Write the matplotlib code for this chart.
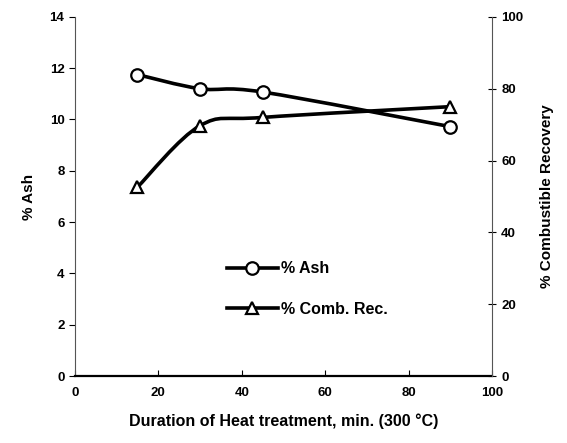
import numpy as np
import matplotlib.pyplot as plt
from matplotlib.path import Path
from matplotlib.patches import PathPatch
from matplotlib.lines import Line2D

plt.rcParams['font.family'] = ['Liberation Sans', 'DejaVu Sans']
plt.rcParams['font.weight'] = 'bold'

# data
duration = [15, 30, 45, 90]
ash = [11.75, 11.2, 11.07, 9.72]
comb_rec = [52.6, 69.7, 72.0, 75.0]


def smooth_path(x, y, k=1/6):
    # Catmull-Rom style bezier through the points (Excel "smoothed line")
    x = np.asarray(x, float)
    y = np.asarray(y, float)
    verts = [(x[0], y[0])]
    codes = [Path.MOVETO]
    n = len(x)
    for i in range(n - 1):
        p0 = i - 1 if i > 0 else i
        p3 = i + 2 if i + 2 < n else i + 1
        c1 = (x[i] + (x[i+1] - x[p0]) * k, y[i] + (y[i+1] - y[p0]) * k)
        c2 = (x[i+1] - (x[p3] - x[i]) * k, y[i+1] - (y[p3] - y[i]) * k)
        verts += [c1, c2, (x[i+1], y[i+1])]
        codes += [Path.CURVE4] * 3
    return Path(verts, codes)


fig = plt.figure(figsize=(5.67, 4.43), dpi=100)
ax = fig.add_axes([0.132, 0.151, 0.736, 0.811])
ax2 = ax.twinx()

ax.add_patch(PathPatch(smooth_path(duration, ash), fill=False, lw=2.6, color='black', zorder=2))
ax.plot(duration, ash, 'o', ms=9, mfc='white', mec='black', mew=1.6, zorder=3)

ax2.add_patch(PathPatch(smooth_path(duration, comb_rec), fill=False, lw=2.6, color='black', zorder=2))
ax2.plot(duration, comb_rec, '^', ms=9, mfc='white', mec='black', mew=1.6, zorder=3)

ax.set_xlim(0, 100)
ax.set_ylim(0, 14)
ax2.set_ylim(0, 100)
ax.set_xticks(range(0, 101, 20))
ax.set_yticks(range(0, 15, 2))
ax2.set_yticks(range(0, 101, 20))

for a in (ax, ax2):
    for s in a.spines.values():
        s.set_visible(False)
ax.spines['left'].set_visible(True)
ax.spines['bottom'].set_visible(True)
ax2.spines['right'].set_visible(True)
ax.spines['left'].set_color('#555555')
ax2.spines['right'].set_color('#555555')
ax.spines['bottom'].set_linewidth(1.6)

ax.tick_params(axis='y', direction='out', length=4, labelsize=9.5, width=0.8)
ax.tick_params(axis='x', direction='in', length=4, labelsize=9.5, pad=8, width=0.8)
ax2.tick_params(axis='y', direction='inout', length=6, labelsize=9.5, width=0.8)

ax.set_xlabel('Duration of Heat treatment, min. (300 \u00b0C)', fontsize=11.5, fontweight='bold', labelpad=10)
ax.set_ylabel('% Ash', fontsize=11, fontweight='bold', labelpad=10)
ax2.set_ylabel('% Combustible Recovery', fontsize=11, fontweight='bold', labelpad=12)

handles = [
    Line2D([], [], color='black', lw=2.6, marker='o', ms=9, mfc='white', mec='black', mew=1.6),
    Line2D([], [], color='black', lw=2.6, marker='^', ms=9, mfc='white', mec='black', mew=1.6),
]
ax.legend(handles, ['% Ash', '% Comb. Rec.'], loc='upper left', bbox_to_anchor=(0.33, 0.36),
          frameon=False, handlelength=3.2, handletextpad=0.2, labelspacing=1.6,
          prop={'weight': 'bold', 'size': 11.5})

fig.savefig('out.png', dpi=100)
